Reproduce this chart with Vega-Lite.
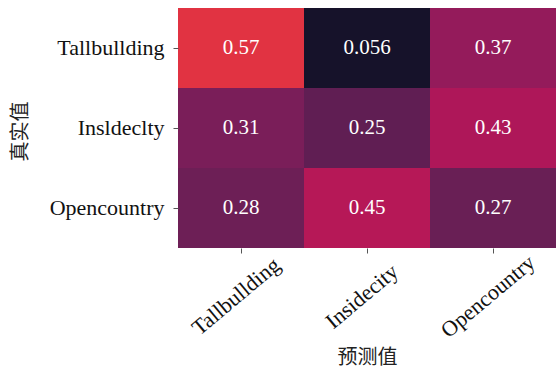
{
  "$schema": "https://vega.github.io/schema/vega-lite/v6.json",
  "width": 378,
  "height": 240,
  "autosize": {"type": "none"},
  "padding": {"left": 178, "top": 8, "right": 0, "bottom": 123},
  "background": "white",
  "config": {"view": {"stroke": null}},
  "data": {
    "values": [
      {"actual": "Tallbullding", "predicted": "Tallbullding", "value": 0.57},
      {"actual": "Tallbullding", "predicted": "Insidecity", "value": 0.056},
      {"actual": "Tallbullding", "predicted": "Opencountry", "value": 0.37},
      {"actual": "Insldeclty", "predicted": "Tallbullding", "value": 0.31},
      {"actual": "Insldeclty", "predicted": "Insidecity", "value": 0.25},
      {"actual": "Insldeclty", "predicted": "Opencountry", "value": 0.43},
      {"actual": "Opencountry", "predicted": "Tallbullding", "value": 0.28},
      {"actual": "Opencountry", "predicted": "Insidecity", "value": 0.45},
      {"actual": "Opencountry", "predicted": "Opencountry", "value": 0.27}
    ]
  },
  "encoding": {
    "x": {
      "field": "predicted",
      "type": "nominal",
      "sort": ["Tallbullding", "Insidecity", "Opencountry"],
      "scale": {"paddingInner": 0, "paddingOuter": 0},
      "axis": {
        "title": "预测值",
        "titleFont": "Noto Sans CJK SC",
        "titleFontSize": 20,
        "titleFontWeight": "normal",
        "titleColor": "#222",
        "titleBaseline": "middle",
        "titleY": 109,
        "labelFont": "Liberation Serif, Times New Roman, serif",
        "labelFontSize": 22,
        "labelColor": "#111",
        "labelAngle": -40,
        "labelAlign": "center",
        "labelBaseline": "middle",
        "labelPadding": 43,
        "labelOffset": -5,
        "domain": false,
        "ticks": true,
        "tickSize": 5,
        "tickColor": "#555",
        "tickWidth": 1
      }
    },
    "y": {
      "field": "actual",
      "type": "nominal",
      "sort": ["Tallbullding", "Insldeclty", "Opencountry"],
      "scale": {"paddingInner": 0, "paddingOuter": 0},
      "axis": {
        "title": "真实值",
        "titleFont": "Noto Sans CJK SC",
        "titleFontSize": 20,
        "titleFontWeight": "normal",
        "titleColor": "#222",
        "titleAngle": -90,
        "titleAlign": "center",
        "titleBaseline": "middle",
        "titleX": -158,
        "titleY": 123,
        "labelFont": "Liberation Serif, Times New Roman, serif",
        "labelFontSize": 22,
        "labelColor": "#111",
        "labelPadding": 9,
        "domain": false,
        "tickSize": 5,
        "tickColor": "#555",
        "tickWidth": 1
      }
    }
  },
  "layer": [
    {
      "mark": {"type": "rect"},
      "encoding": {
        "color": {
          "field": "value",
          "type": "quantitative",
          "scale": {
            "domain": [0, 1],
            "range": ["#03051a", "#35193e", "#701f57", "#ad1759", "#e13342", "#f37651", "#f6b48f", "#faebdd"]
          },
          "legend": null
        }
      }
    },
    {
      "mark": {"type": "text", "font": "Liberation Serif, Times New Roman, serif", "fontSize": 21, "color": "white"},
      "encoding": {
        "text": {"field": "value", "type": "quantitative", "format": ".2g"}
      }
    }
  ]
}
